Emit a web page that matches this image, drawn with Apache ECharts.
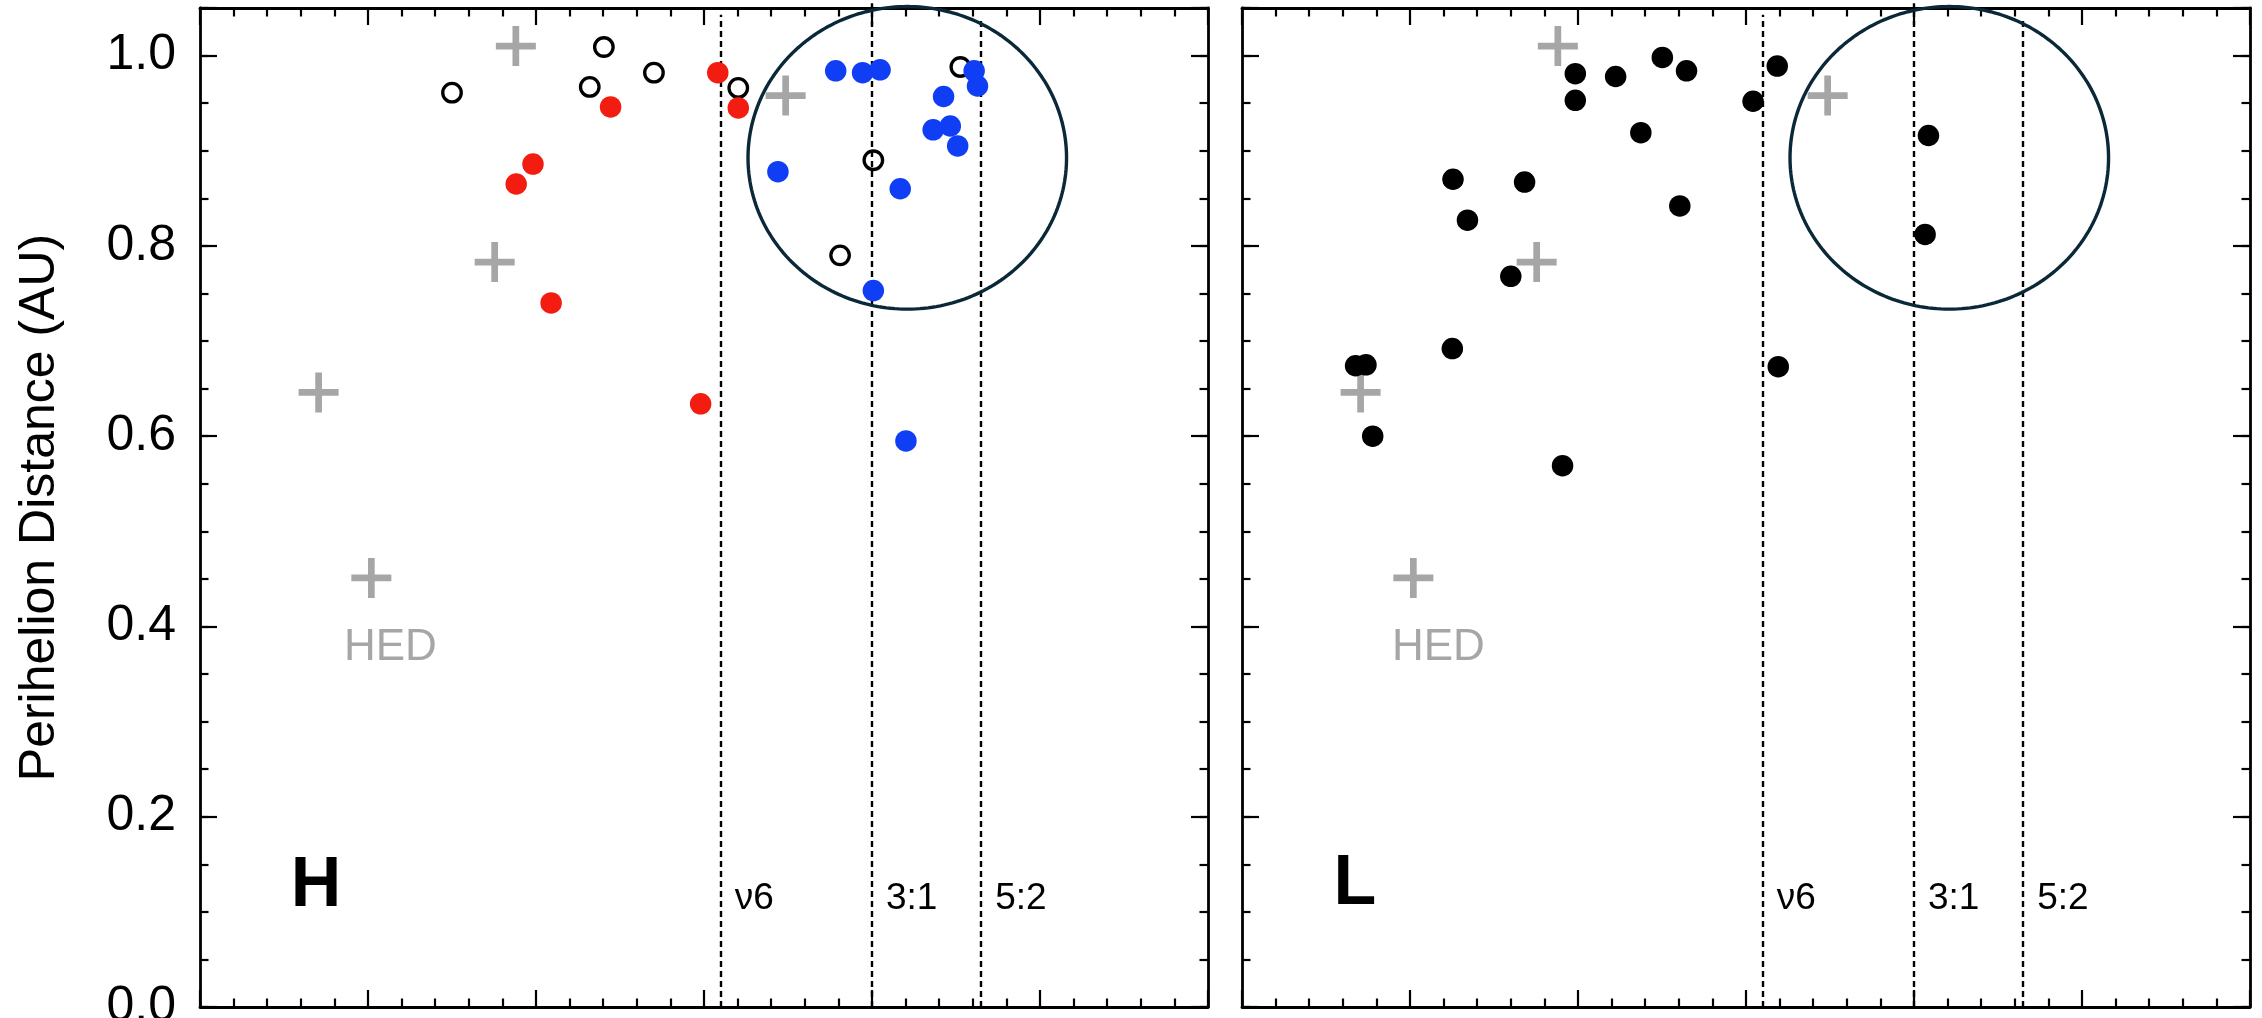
<!DOCTYPE html>
<html>
<head>
<meta charset="utf-8">
<title>Perihelion distance of H and L chondrite orbits</title>
<script src="https://cdn.jsdelivr.net/npm/echarts@6/dist/echarts.min.js"></script>
<style>
  html, body { margin: 0; padding: 0; background: #ffffff; }
  #chart { width: 2262px; height: 1018px; }
</style>
</head>
<body>
<div id="chart"></div>
<script>
// ---- data: [semimajor axis (AU), perihelion distance (AU)] ----
// H panel, three groups
const hOpen = [[1.250, 0.961], [1.702, 1.009], [1.660, 0.967], [1.851, 0.982],
               [2.102, 0.966], [2.763, 0.988], [2.504, 0.890], [2.405, 0.790]];
const hRed = [[1.441, 0.865], [1.491, 0.886], [1.545, 0.740], [1.722, 0.946],
              [1.990, 0.634], [2.041, 0.982], [2.102, 0.945]];
const hBlue = [[2.392, 0.984], [2.472, 0.982], [2.524, 0.985], [2.804, 0.984],
               [2.814, 0.968], [2.713, 0.957], [2.682, 0.922], [2.733, 0.926],
               [2.755, 0.905], [2.220, 0.878], [2.584, 0.860], [2.504, 0.753],
               [2.601, 0.595]];
// L panel
const lFilled = [[1.492, 0.981], [1.492, 0.953], [1.612, 0.978], [1.751, 0.998],
                 [1.823, 0.984], [1.687, 0.919], [2.021, 0.952], [1.128, 0.870],
                 [1.341, 0.867], [1.171, 0.827], [1.803, 0.842], [1.300, 0.768],
                 [1.126, 0.692], [0.838, 0.674], [0.869, 0.675], [0.889, 0.600],
                 [1.454, 0.569], [2.093, 0.989], [2.543, 0.916], [2.533, 0.812],
                 [2.096, 0.673]];
// HED reference orbits (grey crosses, shown in both panels)
const hedRef = [[1.440, 1.010], [1.377, 0.783], [0.853, 0.646], [2.243, 0.958], [1.010, 0.451]];
const hedRefNames = ['', '', '', '', 'HED'];

// resonances: location (AU), top end of the dashed line (AU)
const resonanceNames = ['ν6', '3:1', '5:2'];
const resonanceAU = [2.05, 2.50, 2.825];
const resonanceTop = [1.043, 1.055, 1.040];
const resonanceLabelQ = 0.1;   // label baseline height

// outlined region: centre a, centre q, half-width (AU), half-height (AU)
const orbitRegion = [2.605, 0.8925, 0.474, 0.159];

const panelNames = ['H', 'L'];
const yTickValues = [0.0, 0.2, 0.4, 0.6, 0.8, 1.0];
const yTickLabels = ['0.0', '0.2', '0.4', '0.6', '0.8', '1.0'];
const yAxisName = 'Perihelion Distance (AU)';

// ---- styling ----
const FONT = '"Liberation Sans", Arial, Helvetica, sans-serif';
const GREY = '#a6a6a6';
const PLUS = 'path://M0,16.65H16.65V0H23.35V16.65H40V23.35H23.35V40H16.65V23.35H0Z';

const grids = [
  { left: 200, top: 8, width: 1008, height: 999 },
  { left: 1242, top: 8, width: 1008, height: 999 }
];

function xAxisFor(gi, pos) {
  return {
    gridIndex: gi, type: 'value', position: pos,
    min: 0.5, max: 3.5, interval: 0.5,
    axisLine: { show: true, onZero: false, lineStyle: { color: '#000', width: 2.8 } },
    axisTick: { show: true, inside: true, length: 17, lineStyle: { color: '#000', width: 2.2 } },
    minorTick: { show: true, splitNumber: 5, length: 8.5, lineStyle: { color: '#000', width: 2.2 } },
    axisLabel: { show: false },
    splitLine: { show: false },
    minorSplitLine: { show: false }
  };
}

function yMajorFor(gi, pos, withLabels) {
  const ax = {
    gridIndex: gi, type: 'value', position: pos,
    min: 0, max: 1.05, interval: 0.2,
    axisLine: { show: true, onZero: false, lineStyle: { color: '#000', width: 2.8 } },
    axisTick: { show: true, inside: true, length: 17, lineStyle: { color: '#000', width: 2.2 } },
    axisLabel: {
      show: withLabels,
      margin: 24,
      fontSize: 50,
      fontFamily: FONT,
      color: '#000',
      padding: [0, 0, 19, 0],
      formatter: function (v) {
        for (let i = 0; i < yTickValues.length; i++) {
          if (Math.abs(v - yTickValues[i]) < 1e-6) return yTickLabels[i];
        }
        return '';
      }
    },
    splitLine: { show: false }
  };
  if (withLabels) {
    ax.name = yAxisName;
    ax.nameLocation = 'middle';
    ax.nameGap = 135;
    ax.nameTextStyle = { fontSize: 50, fontFamily: FONT, color: '#000' };
  }
  return ax;
}

function yMinorFor(gi, pos) {
  return {
    gridIndex: gi, type: 'value', position: pos,
    min: 0, max: 1.05, interval: 0.05,
    axisLine: { show: false },
    axisTick: { show: true, inside: true, length: 8.5, lineStyle: { color: '#000', width: 2.2 } },
    axisLabel: { show: false },
    splitLine: { show: false }
  };
}

const xAxes = [xAxisFor(0, 'bottom'), xAxisFor(0, 'top'), xAxisFor(1, 'bottom'), xAxisFor(1, 'top')];
const yAxes = [
  yMajorFor(0, 'left', true), yMinorFor(0, 'left'), yMajorFor(0, 'right', false), yMinorFor(0, 'right'),
  yMajorFor(1, 'left', false), yMinorFor(1, 'left'), yMajorFor(1, 'right', false), yMinorFor(1, 'right')
];

// dashed resonance lines with their labels
function resonanceSeries(xi, yi) {
  return {
    type: 'custom', xAxisIndex: xi, yAxisIndex: yi, z: 1, silent: true,
    encode: { x: 0, y: 1 },
    data: resonanceAU.map(function (a, i) { return [a, resonanceTop[i]]; }),
    renderItem: function (params, api) {
      const a = api.value(0), top = api.value(1);
      const p0 = api.coord([a, 0]);
      const p1 = api.coord([a, top]);
      const pl = api.coord([a, resonanceLabelQ]);
      const x = Math.round(p0[0]);
      return {
        type: 'group',
        children: [
          { type: 'line', shape: { x1: x, y1: p0[1], x2: x, y2: p1[1] },
            style: { stroke: '#000', lineWidth: 2.4, lineDash: [6, 4], fill: null } },
          { type: 'text', x: pl[0] + 14, y: pl[1] - 0.358 * 37,
            style: { text: resonanceNames[params.dataIndex], fill: '#000',
                     font: '37px ' + FONT, align: 'left', verticalAlign: 'middle' } }
        ]
      };
    }
  };
}

// outlined elliptical region in (a, q) space
function regionSeries(xi, yi) {
  return {
    type: 'custom', xAxisIndex: xi, yAxisIndex: yi, z: 2, silent: true,
    encode: { x: 0, y: 1 },
    data: [orbitRegion],
    renderItem: function (params, api) {
      const ca = api.value(0), cq = api.value(1), ra = api.value(2), rq = api.value(3);
      const pts = [];
      for (let i = 0; i < 240; i++) {
        const t = i / 240 * Math.PI * 2;
        pts.push(api.coord([ca + ra * Math.cos(t), cq + rq * Math.sin(t)]));
      }
      return { type: 'polygon', shape: { points: pts },
               style: { fill: null, stroke: '#0b2838', lineWidth: 3.4 } };
    }
  };
}

function hedSeries(xi, yi, labelDx) {
  return {
    type: 'scatter', xAxisIndex: xi, yAxisIndex: yi, z: 3, silent: true,
    symbol: PLUS, symbolSize: 40,
    itemStyle: { color: GREY, opacity: 1 },
    label: {
      show: true, position: 'inside', offset: [labelDx, 70],
      fontSize: 44, fontFamily: FONT, color: GREY,
      formatter: function (p) { return hedRefNames[p.dataIndex]; }
    },
    data: hedRef
  };
}

function dotSeries(xi, yi, data, color) {
  return {
    type: 'scatter', xAxisIndex: xi, yAxisIndex: yi, z: 4, silent: true,
    symbol: 'circle', symbolSize: 21.5,
    itemStyle: { color: color, opacity: 1 },
    data: data
  };
}

const series = [
  resonanceSeries(0, 0), regionSeries(0, 0), hedSeries(0, 0, 19),
  {
    type: 'scatter', xAxisIndex: 0, yAxisIndex: 0, z: 4, silent: true,
    symbol: 'circle', symbolSize: 18.5,
    itemStyle: { color: 'rgba(0,0,0,0)', borderColor: '#000', borderWidth: 3.3, opacity: 1 },
    data: hOpen
  },
  dotSeries(0, 0, hRed, '#f21c10'),
  dotSeries(0, 0, hBlue, '#0f3ef5'),

  resonanceSeries(2, 4), regionSeries(2, 4), hedSeries(2, 4, 25),
  dotSeries(2, 4, lFilled, '#000000')
];

const chart = echarts.init(document.getElementById('chart'), null, { renderer: 'canvas' });
chart.setOption({
  backgroundColor: '#ffffff',
  animation: false,
  grid: grids.map(function (g) { return Object.assign({ containLabel: false, outerBoundsMode: 'none' }, g); }),
  xAxis: xAxes,
  yAxis: yAxes,
  graphic: [
    { type: 'text', x: 316, y: 887, silent: true,
      style: { text: panelNames[0], font: 'bold 70px ' + FONT, fill: '#000', align: 'center', verticalAlign: 'middle' } },
    { type: 'text', x: 1355, y: 885, silent: true,
      style: { text: panelNames[1], font: 'bold 70px ' + FONT, fill: '#000', align: 'center', verticalAlign: 'middle' } }
  ],
  series: series
});
</script>
</body>
</html>
